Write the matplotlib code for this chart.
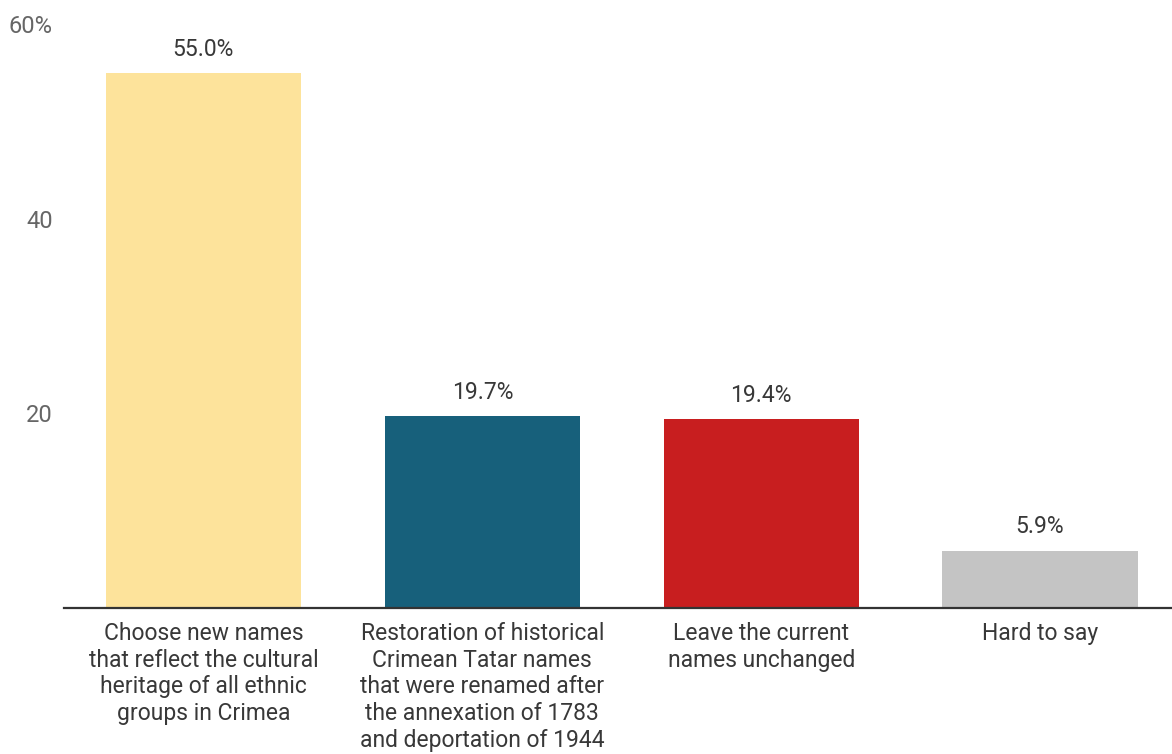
import matplotlib
matplotlib.use("Agg")
import matplotlib.pyplot as plt

categories = [
    "Choose new names\nthat reflect the cultural\nheritage of all ethnic\ngroups in Crimea",
    "Restoration of historical\nCrimean Tatar names\nthat were renamed after\nthe annexation of 1783\nand deportation of 1944",
    "Leave the current\nnames unchanged",
    "Hard to say",
]
values = [55.0, 19.7, 19.4, 5.9]
colors = ["#FDE39B", "#17607B", "#C81E1F", "#C4C4C4"]
yticks = [20, 40, 60]
ytick_labels = ["20", "40", "60%"]

plt.rcParams["font.family"] = ["Roboto", "DejaVu Sans"]

fig = plt.figure(figsize=(11.72, 7.54), dpi=100)
ax = fig.add_axes([64 / 1172, 146 / 754, 1 - 64 / 1172, (608 - 24) / 754])

x = range(len(values))
bars = ax.bar(x, values, width=0.7, color=colors, zorder=2)
for b, v in zip(bars, values):
    ax.annotate(f"{v:.1f}%", (b.get_x() + b.get_width() / 2, v),
                xytext=(0, 17), textcoords="offset points",
                ha="center", va="center", fontsize=16.5, color="#383838")

ax.set_xlim(-0.5, 3.473)
ax.set_ylim(0, 60)
ax.set_xticks(list(x))
ax.set_xticklabels(categories, fontsize=16.5, color="#383838", linespacing=1.21, va="top")
ax.tick_params(axis="x", length=0, pad=10)
ax.set_yticks(yticks)
ax.set_yticklabels(ytick_labels, fontsize=17, color="#666666")
ax.tick_params(axis="y", length=0, pad=8)

for s in ["top", "right", "left"]:
    ax.spines[s].set_visible(False)
ax.spines["bottom"].set_color("#333333")
ax.spines["bottom"].set_linewidth(1.6)
ax.spines["bottom"].set_zorder(3)

fig.savefig("out.png", dpi=100)
